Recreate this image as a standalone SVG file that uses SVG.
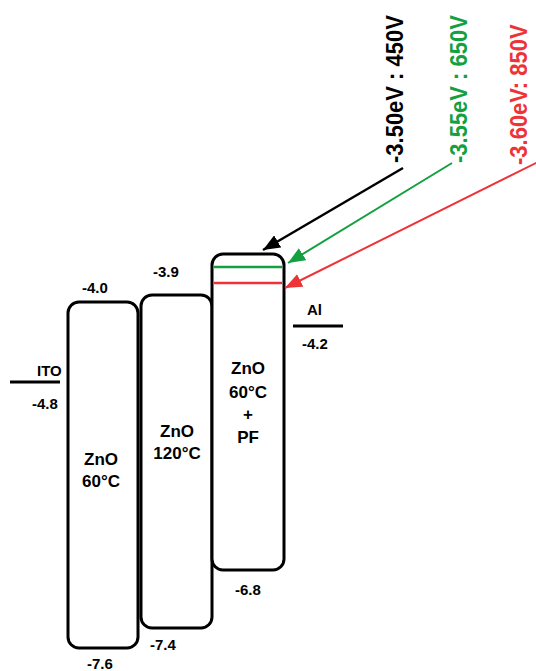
<svg xmlns="http://www.w3.org/2000/svg" width="536" height="671" viewBox="0 0 536 671">
<defs>
<style>
.box{fill:#fff;stroke:#000;stroke-width:3}
.lvl{stroke:#000;stroke-width:3}
.lbl{font-family:"Liberation Sans",Arial,sans-serif;font-weight:bold;font-size:15px;fill:#000}
.name{font-family:"Liberation Sans",Arial,sans-serif;font-weight:bold;font-size:17px;fill:#000;text-anchor:middle}
.rot{font-family:"Liberation Sans",Arial,sans-serif;font-weight:bold;font-size:22px}
</style>
<marker id="ak" markerUnits="userSpaceOnUse" markerWidth="18" markerHeight="14" refX="17" refY="7" orient="auto"><path d="M0,0 L17,7 L0,14 z" fill="#000"/></marker>
<marker id="ag" markerUnits="userSpaceOnUse" markerWidth="18" markerHeight="14" refX="17" refY="7" orient="auto"><path d="M0,0 L17,7 L0,14 z" fill="#14a040"/></marker>
<marker id="ar" markerUnits="userSpaceOnUse" markerWidth="18" markerHeight="14" refX="17" refY="7" orient="auto"><path d="M0,0 L17,7 L0,14 z" fill="#ee3338"/></marker>
</defs>
<rect width="536" height="671" fill="#fff"/>

<g id="ito">
<line class="lvl" x1="10" y1="382" x2="60" y2="382"/>
<text class="lbl" x="37" y="376">ITO</text>
<text class="lbl" x="32" y="409">-4.8</text>
</g>

<g id="zno60">
<rect class="box" x="68" y="302" width="70" height="346" rx="11"/>
<text class="name" x="101" y="465">ZnO</text>
<text class="name" x="101" y="487">60°C</text>
<text class="lbl" x="82" y="293">-4.0</text>
<text class="lbl" x="87" y="669">-7.6</text>
</g>

<g id="zno120">
<rect class="box" x="141" y="295" width="71" height="333" rx="11"/>
<text class="name" x="177" y="437">ZnO</text>
<text class="name" x="177" y="459">120°C</text>
<text class="lbl" x="153" y="277">-3.9</text>
<text class="lbl" x="150" y="650">-7.4</text>
</g>

<g id="zno60pf">
<rect class="box" x="212" y="254" width="72" height="316" rx="11"/>
<line x1="214" y1="267" x2="282" y2="267" stroke="#14a040" stroke-width="2.5"/>
<line x1="214" y1="283" x2="282" y2="283" stroke="#ee3338" stroke-width="2.5"/>
<text class="name" x="248" y="374">ZnO</text>
<text class="name" x="248" y="398">60°C</text>
<text class="name" x="248" y="420">+</text>
<text class="name" x="248" y="443">PF</text>
<text class="lbl" x="235" y="595">-6.8</text>
</g>

<g id="al">
<line class="lvl" x1="293" y1="326" x2="343" y2="326"/>
<text class="lbl" x="307" y="315">Al</text>
<text class="lbl" x="302" y="349">-4.2</text>
</g>

<g id="labels">
<text class="rot" fill="#000" transform="translate(403,163) rotate(-90) scale(1,1.12)">-3.50eV : 450V</text>
<text class="rot" fill="#14a040" transform="translate(467,163) rotate(-90) scale(1,1.12)">-3.55eV : 650V</text>
<text class="rot" fill="#ee3338" transform="translate(527,165) rotate(-90) scale(1,1.12)">-3.60eV: 850V</text>
</g>

<g id="connectors" fill="none">
<line x1="403" y1="168" x2="263" y2="250" stroke="#000" stroke-width="2.5" marker-end="url(#ak)"/>
<line x1="452" y1="163" x2="288" y2="263" stroke="#14a040" stroke-width="2" marker-end="url(#ag)"/>
<line x1="540" y1="161" x2="285" y2="288" stroke="#ee3338" stroke-width="2" marker-end="url(#ar)"/>
</g>
</svg>
